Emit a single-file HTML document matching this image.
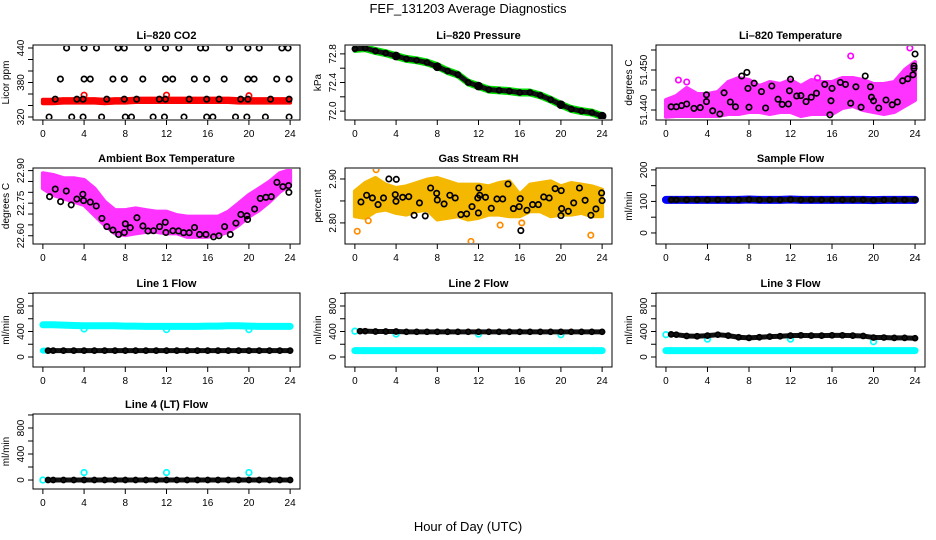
<!DOCTYPE html>
<html><head><meta charset="utf-8"><style>
html,body{margin:0;padding:0;background:#fff;}
svg{display:block;font-family:"Liberation Sans",Arial,sans-serif;}
</style></head><body>
<svg id="chart" width="936" height="540" viewBox="0 0 936 540">
<text x="468" y="13" text-anchor="middle" font-size="13">FEF_131203  Average Diagnostics</text>
<text x="468" y="531" text-anchor="middle" font-size="13">Hour of Day (UTC)</text>
</svg>
<script>
// ---------- data ----------
const H=[0,1,2,3,4,5,6,7,8,9,10,11,12,13,14,15,16,17,18,19,20,21,22,23,24];
const xTicks=[0,4,8,12,16,20,24];
// CO2
const co2Red=[347,347,348,348,348,348,347,348,348,349,349,349,349,349,349,349,349,349,349,348,348,348,348,348,348];
const co2RedOut=[[4,358],[12,358],[20,357]];
const co2Black=[[2.3,440],[4.0,440],[5.2,440],[7.3,440],[7.9,440],[10.2,440],[11.9,440],[13.2,440],[15.3,440],[15.8,440],[18.1,440],[19.9,440],[21.0,440],[23.2,440],[23.8,440],
[1.7,386],[4.0,386],[4.6,386],[6.8,386],[7.9,386],[9.7,386],[11.9,386],[12.6,386],[14.7,386],[15.9,386],[17.6,386],[19.9,386],[20.5,386],[22.7,386],[23.9,386],
[1.2,351],[3.3,351],[3.9,351],[6.2,351],[7.9,351],[9.1,351],[11.3,351],[11.9,351],[14.2,351],[15.9,351],[17.1,351],[19.2,351],[19.9,351],[22.1,351],[23.9,351],
[0.6,320],[2.8,320],[3.9,320],[5.7,320],[8.0,320],[8.6,320],[10.7,320],[11.8,320],[13.7,320],[15.9,320],[16.5,320],[18.7,320],[19.8,320],[21.6,320],[23.9,320]];
// Pressure
const presGreen=[72.87,72.88,72.84,72.81,72.77,72.73,72.71,72.68,72.63,72.56,72.51,72.40,72.35,72.30,72.29,72.28,72.26,72.26,72.22,72.16,72.09,72.03,72.00,71.98,71.93];
const presBlack=[72.87,72.88,72.84,72.81,72.77,72.73,72.71,72.68,72.62,72.56,72.51,72.40,72.35,72.30,72.29,72.28,72.26,72.26,72.22,72.16,72.09,72.03,72.00,71.98,71.93];
const presBig=[[4,72.77],[8,72.62],[12,72.35],[20,72.09],[24,71.93]];
// Li-820 temperature
const tempLo=[51.4383,51.4385,51.4385,51.4385,51.4385,51.4385,51.4390,51.4390,51.4395,51.4395,51.4390,51.4395,51.4395,51.4385,51.4390,51.4390,51.4390,51.4405,51.4410,51.4400,51.4395,51.4390,51.4395,51.4410,51.4425];
const tempHi=[51.4425,51.4435,51.4455,51.4440,51.4440,51.4445,51.4470,51.4480,51.4475,51.4460,51.4470,51.4465,51.4475,51.4460,51.4475,51.4470,51.4470,51.4480,51.4480,51.4475,51.4465,51.4465,51.4470,51.4500,51.4520];
const tempMagOut=[[17.8,51.4535],[23.5,51.4555],[1.2,51.4475],[2.0,51.4470],[14.6,51.4480]];
const tempBlack=[[0.5,51.4408],[1,51.4408],[1.5,51.4411],[2,51.4415],[2.7,51.4404],[3.3,51.4406],[3.9,51.4438],[3.9,51.4421],[4.5,51.4398],[5.2,51.4390],[5.6,51.4443],[6.2,51.4420],[6.7,51.4408],[7.3,51.4485],[7.8,51.4494],[7.9,51.4454],[8,51.4407],[8.5,51.4467],[9.2,51.4446],[9.6,51.4405],[10.2,51.4460],[10.8,51.4427],[11.2,51.4414],[11.8,51.4415],[11.9,51.4448],[12,51.4477],[12.6,51.4435],[13,51.4436],[13.5,51.4421],[14,51.4432],[14.5,51.4442],[15.3,51.4464],[15.8,51.4388],[15.9,51.4423],[16,51.4454],[16.8,51.4469],[17.3,51.4464],[17.8,51.4417],[18.3,51.4458],[18.8,51.4407],[19.2,51.4485],[19.7,51.4458],[19.8,51.4432],[20,51.4423],[20.5,51.4405],[21.2,51.4425],[21.8,51.4413],[22.3,51.4420],[22.8,51.4473],[23.3,51.4478],[23.8,51.4488],[23.9,51.4510],[23.9,51.4504],[24,51.4540]];
// Ambient box temperature
const ambLo=[22.818,22.788,22.772,22.757,22.742,22.695,22.649,22.611,22.603,22.611,22.618,22.618,22.611,22.611,22.595,22.595,22.595,22.603,22.618,22.649,22.688,22.718,22.757,22.803,22.834];
const ambHi=[22.888,22.880,22.865,22.865,22.857,22.818,22.757,22.718,22.718,22.726,22.718,22.711,22.711,22.695,22.688,22.688,22.688,22.688,22.711,22.749,22.788,22.818,22.849,22.888,22.903];
const ambBlack=[[0.65,22.780],[1.2,22.815],[1.72,22.757],[2.27,22.806],[2.75,22.742],[3.3,22.769],[3.88,22.791],[3.95,22.762],[4.6,22.755],[5.18,22.737],[5.73,22.680],[6.21,22.642],[6.8,22.626],[7.35,22.606],[7.9,22.615],[8.0,22.655],[8.48,22.637],[9.13,22.683],[9.71,22.645],[10.2,22.622],[10.74,22.623],[11.33,22.642],[11.88,22.662],[11.94,22.615],[12.62,22.623],[13.17,22.622],[13.66,22.614],[14.2,22.614],[14.72,22.638],[15.21,22.606],[15.83,22.606],[16.57,22.595],[17.09,22.600],[17.64,22.642],[18.19,22.606],[18.74,22.658],[19.22,22.698],[19.81,22.692],[19.87,22.675],[20.55,22.723],[21.1,22.772],[21.65,22.777],[22.17,22.780],[22.72,22.846],[23.3,22.826],[23.85,22.831],[23.88,22.800]];
// Gas stream RH
const rhLo=[2.8152,2.8114,2.8265,2.8303,2.8227,2.8189,2.8265,2.8303,2.8076,2.8114,2.8152,2.8076,2.8114,2.8189,2.8189,2.8152,2.8152,2.8265,2.8265,2.8152,2.8189,2.8189,2.8227,2.8152,2.8152];
const rhHi=[2.8720,2.8909,2.9023,2.8871,2.8795,2.8833,2.8909,2.8985,2.9023,2.8947,2.8871,2.8871,2.8871,2.8833,2.8909,2.8947,2.8644,2.8871,2.8909,2.8947,2.8833,2.8909,2.8871,2.8833,2.8758];
const rhOut=[[0.23,2.781],[2.06,2.921],[11.27,2.758],[22.9,2.772],[16.2,2.800],[1.3,2.805],[14.1,2.795]];
const rhBlack=[[0.59,2.8477],[1.14,2.8629],[1.70,2.8568],[2.25,2.8417],[2.78,2.8568],[3.30,2.9000],[4.02,2.8992],[3.92,2.8644],[3.99,2.8492],[4.64,2.8583],[5.23,2.8598],[5.75,2.8174],[6.27,2.8455],[6.83,2.8159],[7.35,2.8795],[7.94,2.8674],[8.0,2.8523],[8.66,2.8432],[9.22,2.8629],[9.74,2.8568],[10.29,2.8189],[10.85,2.8205],[11.37,2.8371],[11.93,2.8568],[11.99,2.8227],[12.03,2.8795],[12.12,2.8629],[12.68,2.8583],[13.24,2.8333],[13.79,2.8545],[14.35,2.8545],[14.87,2.8886],[15.39,2.8326],[15.95,2.8371],[16.05,2.8553],[16.11,2.7826],[16.7,2.8288],[17.25,2.8417],[17.81,2.8417],[18.33,2.8591],[18.86,2.8568],[19.44,2.8780],[20.03,2.8735],[20.07,2.8326],[20.0,2.8167],[20.72,2.8265],[21.24,2.8455],[21.8,2.8795],[22.35,2.8515],[22.91,2.8174],[23.4,2.8318],[23.95,2.8682],[24.0,2.8508]];
// Sample flow
const sampBlue=[105,105,105,105,105,105,105,105,106,105,105,105,106,105,105,105,105,105,105,105,104,105,105,105,105];
const sampBlack=[105,105,105,105,105,105,105,105,106,105,105,105,106,105,105,105,105,105,105,105,104,105,105,105,105];
// Line flows
const HB=[0.5,1,2,3,4,5,6,7,8,9,10,11,12,13,14,15,16,17,18,19,20,21,22,23,24];
const l1Cyan=[505,505,500,495,490,490,490,490,485,485,480,480,480,480,480,480,485,485,490,490,485,480,480,480,480];
const l1CyanDip=[[4,440],[12,430],[20,430]];
const l1Black=[100,100,100,100,100,100,100,100,100,100,100,100,100,100,100,100,100,100,100,100,100,100,100,100,100];
const l2CyanLow=[100,100,100,100,100,100,100,100,100,100,100,100,100,100,100,100,100,100,100,100,100,100,100,100,100];
const l2CyanDip=[[0,405],[4,360],[12,360],[20,350]];
const l2Black=[405,405,400,400,400,395,395,395,395,395,395,395,395,395,395,395,395,395,395,395,395,395,395,395,395];
const l3CyanLow=[100,100,100,100,100,100,100,100,100,100,100,100,100,100,100,100,100,100,100,100,100,100,100,100,100];
const l3CyanDip=[[0,350],[4,280],[12,280],[20,240]];
const l3Black=[355,350,330,325,335,350,335,310,300,310,320,325,335,340,335,335,340,340,335,330,305,305,300,300,295];
const l4CyanOut=[[0,0],[4,115],[12,115],[20,115]];
const l4Black=[0,0,0,0,0,0,0,0,0,0,0,0,0,0,0,0,0,0,0,0,0,0,0,0,0];

// ---------- drawing ----------
const NS='http://www.w3.org/2000/svg';
const svg=document.getElementById('chart');
function mk(tag,attrs,parent){const e=document.createElementNS(NS,tag);for(const k in attrs)e.setAttribute(k,attrs[k]);(parent||svg).appendChild(e);return e;}
const colL=[33,345,656],colR=[300,612,925];
const rowT=[45,168,293,414],rowB=[120,244,367,489];

function makePanel(c,r,ymin,ymax,ticks,labels,title,ylab,name){
  const L=colL[c],R=colR[c],T=rowT[r],B=rowB[r];
  const pad=(R-L)*0.037;
  const g=mk('g',{});
  
  
  const x=h=>L+pad+(h/24)*(R-L-2*pad);
  const y=v=>B-(v-ymin)/(ymax-ymin)*(B-T);
  const box=mk('rect',{x:L,y:T,width:R-L,height:B-T,fill:'none',stroke:'#000','stroke-width':1},g);
  
  
  const t=mk('text',{x:(L+R)/2,y:T-6,'text-anchor':'middle','font-size':11,'font-weight':'bold'},g);
  t.textContent=title;
  
  
  const yl=mk('text',{x:0,y:0,'text-anchor':'middle','font-size':10,transform:`translate(${L-24},${(T+B)/2}) rotate(-90)`},g);
  yl.textContent=ylab;
  
  
  xTicks.forEach(h=>{
    const tk=mk('line',{x1:x(h),x2:x(h),y1:B,y2:B+5,stroke:'#000'},g);
    
    
    const tl=mk('text',{x:x(h),y:B+17,'text-anchor':'middle','font-size':10},g);
    tl.textContent=h;
    
    
  });
  ticks.forEach(v=>{
    const tk=mk('line',{x1:L,x2:L-5,y1:y(v),y2:y(v),stroke:'#000'},g);
    
    
  });
  labels.forEach(s=>{
    const v=parseFloat(s);
    const tl=mk('text',{x:0,y:0,'text-anchor':'middle','font-size':10,transform:`translate(${L-9},${y(v)}) rotate(-90)`},g);
    tl.textContent=s;
    
    
  });
  const clip='clip'+c+r;
  const cp=mk('clipPath',{id:clip},g);
  mk('rect',{x:L+1,y:T+1,width:R-L-2,height:B-T-2},cp);
  const d=mk('g',{'clip-path':`url(#${clip})`},g);
  
  
  return {g:d,x,y};
}
function band(p,hs,lo,hi,color,name){
  const pts=hs.map((h,i)=>p.x(h)+','+p.y(hi[i])).concat(hs.map((h,i)=>[h,i]).reverse().map(([h,i])=>p.x(h)+','+p.y(lo[i])));
  const e=mk('polygon',{points:pts.join(' '),fill:color,stroke:color,'stroke-width':4,'stroke-linejoin':'round'},p.g);
  
  
}
function thick(p,hs,vs,color,w,name){
  const e=mk('polyline',{points:hs.map((h,i)=>p.x(h)+','+p.y(vs[i])).join(' '),fill:'none',stroke:color,'stroke-width':w,'stroke-linecap':'round','stroke-linejoin':'round'},p.g);
  
  
}
function pts(p,pairs,color,r,name,fill){
  pairs.forEach(([h,v])=>{
    const e=mk('circle',{cx:p.x(h),cy:p.y(v),r:r,fill:fill||'none',stroke:color,'stroke-width':1.7},p.g);
    
    
  });
}
function chain(p,hs,vs,name){
  thick(p,hs,vs,'#111',5,name);
  pts(p,hs.map((h,i)=>[h,vs[i]]),'#000',2.5,name+'-point');
}
const lineTicks=[0,200,400,600,800,1000],lineLabels=['0','400','800'];

// CO2
let p=makePanel(0,0,314.8,445.2,[320,340,360,380,400,420,440],['320','380','440'],'Li\u2013820 CO2','Licor ppm','panel-co2');
band(p,H,co2Red.map(v=>v-3),co2Red.map(v=>v+3),'#ff0000','co2-red-band');
pts(p,co2RedOut,'#ff0000',2.7,'co2-red-outlier');
pts(p,co2Black,'#000',2.7,'co2-black-point');
// Pressure
p=makePanel(1,0,71.876,72.924,[72.0,72.2,72.4,72.6,72.8],['72.0','72.4','72.8'],'Li\u2013820 Pressure','kPa','panel-pressure');
band(p,H,presGreen.map(v=>v-0.028),presGreen.map(v=>v+0.028),'#00e000','pressure-green-band');
chain(p,H,presBlack,'pressure-black-series');
pts(p,presBig,'#000',3.5,'pressure-big-point','#000');
// Temperature
p=makePanel(2,0,51.4375,51.45625,[51.440,51.445,51.450,51.455],['51.440','51.450'],'Li\u2013820 Temperature','degrees C','panel-temperature');
band(p,H,tempLo,tempHi,'#ff33ff','temp-magenta-band');
pts(p,tempMagOut,'#ff00ff',2.7,'temp-magenta-outlier');
pts(p,tempBlack,'#000',2.7,'temp-black-point');
// Ambient
p=makePanel(0,1,22.562,22.912,[22.60,22.65,22.70,22.75,22.80,22.85,22.90],['22.60','22.75','22.90'],'Ambient Box Temperature','degrees C','panel-ambient');
band(p,H,ambLo,ambHi,'#ff33ff','ambient-magenta-band');
pts(p,ambBlack,'#000',2.7,'ambient-black-point');
// RH
p=makePanel(1,1,2.752,2.925,[2.80,2.85,2.90],['2.80','2.90'],'Gas Stream RH','percent','panel-rh');
band(p,H,rhLo,rhHi,'#f5b800','rh-yellow-band');
pts(p,rhOut,'#ff8c00',2.7,'rh-outlier');
pts(p,rhBlack,'#000',2.7,'rh-black-point');
// Sample flow
p=makePanel(2,1,-35,206,[0,50,100,150,200],['0','100','200'],'Sample Flow','ml/min','panel-sample-flow');
thick(p,H,sampBlue,'#0000ff',8,'sample-blue-series');
chain(p,HB,sampBlack,'sample-black-series');
// Line 1
p=makePanel(0,2,-157,1004,lineTicks,lineLabels,'Line 1 Flow','ml/min','panel-line1');
thick(p,H,l1Cyan,'#00ffff',7,'line1-cyan-high');
pts(p,l1CyanDip,'#00ffff',2.8,'line1-cyan-dip');
thick(p,[0,0.5],[100,100],'#00ffff',6,'line1-cyan-low');
chain(p,HB,l1Black,'line1-black-series');
// Line 2
p=makePanel(1,2,-157,1004,lineTicks,lineLabels,'Line 2 Flow','ml/min','panel-line2');
thick(p,H,l2CyanLow,'#00ffff',7,'line2-cyan-low');
pts(p,l2CyanDip,'#00ffff',2.8,'line2-cyan-dip');
chain(p,HB,l2Black,'line2-black-series');
// Line 3
p=makePanel(2,2,-157,1004,lineTicks,lineLabels,'Line 3 Flow','ml/min','panel-line3');
thick(p,H,l3CyanLow,'#00ffff',7,'line3-cyan-low');
pts(p,l3CyanDip,'#00ffff',2.8,'line3-cyan-dip');
chain(p,HB,l3Black,'line3-black-series');
// Line 4
p=makePanel(0,3,-138,1015,lineTicks,lineLabels,'Line 4 (LT) Flow','ml/min','panel-line4');
pts(p,l4CyanOut,'#00ffff',2.8,'line4-cyan-point');
chain(p,HB,l4Black,'line4-black-series');
</script>
</body></html>
